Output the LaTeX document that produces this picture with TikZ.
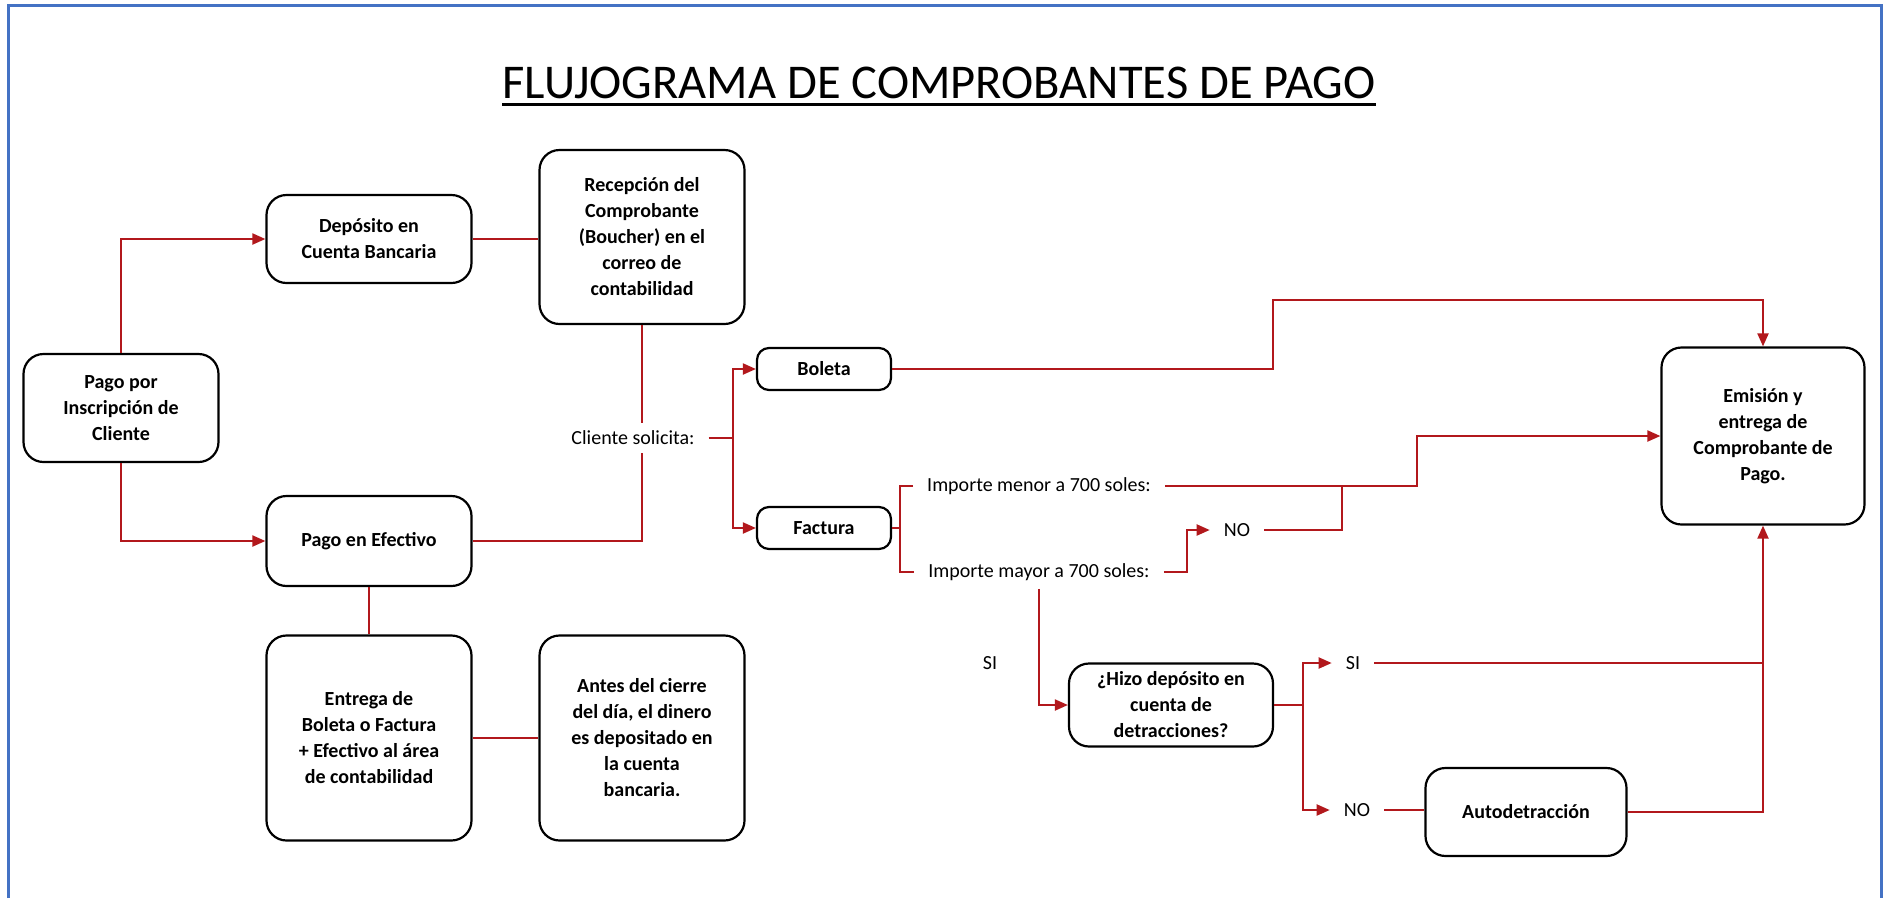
\documentclass[tikz,border=0pt]{standalone}
\usepackage{fontspec}
\setmainfont{Carlito}
\usepackage{xcolor}
\usetikzlibrary{arrows.meta,positioning}
\definecolor{rojo}{RGB}{178,24,28}
\definecolor{marco}{RGB}{68,114,196}

\begin{document}
\begin{tikzpicture}[x=1pt,y=-1pt,
  caja/.style={draw, line width=2.2pt, rounded corners=20pt, align=center,
    font=\bfseries\fontsize{20}{26}\selectfont, inner sep=4pt},
  etiqueta/.style={font=\fontsize{20}{24}\selectfont, inner xsep=14pt, inner ysep=8pt},
  linea/.style={draw=rojo, line width=2pt},
  flecha/.style={linea, -{Triangle[length=13pt,width=11pt]}}]
  \useasboundingbox (0,0) rectangle (1883,898);
  \draw[marco, line width=3pt] (8.5,898) -- (8.5,5) -- (1881.5,5) -- (1881.5,898);

  % titulo
  \node[font=\fontsize{48.5}{56}\selectfont, inner sep=0pt, anchor=base] (titulo) at (939,98) {FLUJOGRAMA DE COMPROBANTES DE PAGO};
  \draw[line width=3pt] ([yshift=-6pt]titulo.base west) -- ([yshift=-6pt]titulo.base east);

  % cajas
  \node[caja, minimum width=195pt, minimum height=108pt] (pago) at (121,408) {Pago por\\Inscripción de\\Cliente};
  \node[caja, minimum width=205pt, minimum height=88pt] (deposito) at (369,239) {Depósito en\\Cuenta Bancaria};
  \node[caja, minimum width=205pt, minimum height=174pt] (recepcion) at (642,237) {Recepción del\\Comprobante\\(Boucher) en el\\correo de\\contabilidad};
  \node[caja, minimum width=205pt, minimum height=90pt] (efectivo) at (369,541) {Pago en Efectivo};
  \node[caja, minimum width=205pt, minimum height=205pt] (entrega) at (369,738) {Entrega de\\Boleta o Factura\\+ Efectivo al área\\de contabilidad};
  \node[caja, minimum width=205pt, minimum height=205pt] (antes) at (642,738) {Antes del cierre\\del día, el dinero\\es depositado en\\la cuenta\\bancaria.};
  \node[caja, minimum width=134pt, minimum height=42pt, rounded corners=12pt] (boleta) at (824,369) {Boleta};
  \node[caja, minimum width=134pt, minimum height=42pt, rounded corners=12pt] (factura) at (824,528) {Factura};
  \node[caja, minimum width=203pt, minimum height=177pt] (emision) at (1763,436) {Emisión y\\entrega de\\Comprobante de\\Pago.};
  \node[caja, minimum width=204pt, minimum height=83pt] (hizo) at (1171,705) {¿Hizo depósito en\\cuenta de\\detracciones?};
  \node[caja, minimum width=201pt, minimum height=88pt] (auto) at (1526,812) {Autodetracción};

  % etiquetas
  \node[etiqueta] (solicita) at (633,438) {Cliente solicita:};
  \node[etiqueta] (menor) at (1039,486) {Importe menor a 700 soles:};
  \node[etiqueta] (mayor) at (1039,572) {Importe mayor a 700 soles:};
  \node[etiqueta] (no1) at (1237,530) {NO};
  \node[etiqueta] (si1) at (990,663) {SI};
  \node[etiqueta] (si2) at (1353,663) {SI};
  \node[etiqueta] (no2) at (1357,810) {NO};

  \coordinate (bus) at (733,438);
  \coordinate (fb) at (900,528);
  \coordinate (cb) at (1273,300);
  \coordinate (j1) at (1342,486);
  \coordinate (j2) at (1417,486);
  \coordinate (k1) at (1187,572);
  \coordinate (hb) at (1303,705);

  % conectores
  \draw[flecha] (pago.north) |- (deposito.west);
  \draw[flecha] (pago.south) |- (efectivo.west);
  \draw[linea] (deposito.east) -- (recepcion.west |- deposito.east);
  \draw[linea] (efectivo) -- (entrega);
  \draw[linea] (entrega) -- (antes);
  \draw[linea] (recepcion.south) -- (recepcion.south |- solicita.north);
  \draw[linea] (efectivo.east) -| (recepcion.south |- solicita.south);
  \draw[linea] (solicita.east) -- (bus);
  \draw[flecha] (bus) |- (boleta.west);
  \draw[flecha] (bus) |- (factura.west);
  \draw[flecha] (boleta.east) -| (cb) -| (emision.north);
  \draw[linea] (factura.east) -- (fb);
  \draw[linea] (menor.west) -| (fb) |- (mayor.west);
  \draw[linea] (menor.east) -- (j1);
  \draw[flecha] (mayor.east) -- (k1) |- (no1.west);
  \draw[linea] (no1.east) -| (j1);
  \draw[flecha] (j1) -- (j2) |- (emision.west);
  \draw[flecha] (mayor.south) |- (hizo.west);
  \draw[linea] (hizo.east) -- (hb);
  \draw[flecha] (hb) |- (si2.west);
  \draw[flecha] (hb) |- (no2.west);
  \draw[linea] (si2.east) -- (si2.east -| emision.south);
  \draw[linea] (no2.east) -- (no2.east -| auto.west);
  \draw[flecha] (auto.east) -| (emision.south);
\end{tikzpicture}
\end{document}
